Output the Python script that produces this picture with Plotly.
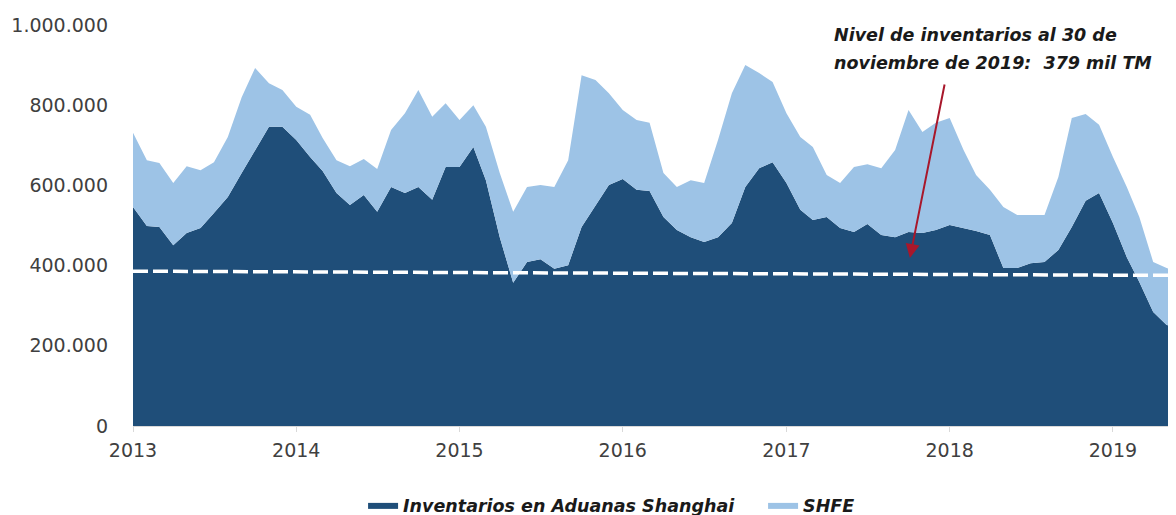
import pandas as pd
import plotly.graph_objects as go

# ---- data (thousand tonnes, converted below) ----
start_month = "2013-01-01"
n_months = 78

aduanas_k = [546, 499, 496, 451, 481, 494, 531, 571, 631, 688, 746, 746,
             713, 671, 636, 581, 551, 576, 534, 596, 581, 596, 564, 646,
             646, 696, 613, 471, 357, 409, 416, 392, 401, 496, 551, 601,
             616, 589, 586, 521, 489, 471, 459, 471, 506, 596, 643, 658,
             606, 539, 514, 521, 494, 484, 504, 476, 471, 484, 481, 489,
             501, 494, 486, 476, 394, 394, 406, 409, 439, 496, 562, 581,
             506, 421, 359, 284, 252, 245]

shfe_k = [185, 164, 160, 155, 167, 144, 127, 150, 189, 205, 109, 92,
          83, 105, 82, 82, 97, 90, 107, 142, 199, 242, 207, 159,
          117, 104, 133, 160, 177, 187, 185, 204, 262, 379, 312, 229,
          172, 174, 170, 110, 107, 142, 147, 242, 324, 304, 237, 200,
          174, 182, 182, 105, 112, 162, 149, 167, 217, 304, 252, 267,
          267, 194, 140, 113, 152, 132, 120, 117, 182, 272, 216, 170,
          165, 175, 162, 125, 142, 135]

nivel_k = [386, 375.5]  # dashed reference line (start, end)

y_tickvals = [0, 200000, 400000, 600000, 800000, 1000000]
y_ticktext = ["0", "200.000", "400.000", "600.000", "800.000", "1.000.000"]

series_names = ["Inventarios en Aduanas Shanghai", "SHFE"]
annotation_lines = ["Nivel de inventarios al 30 de",
                    "noviembre de 2019:  379 mil TM"]

# ---- build ----
dates = pd.date_range(start_month, periods=n_months, freq="MS")
aduanas = [v * 1000 for v in aduanas_k]
shfe = [v * 1000 for v in shfe_k]
nivel = [v * 1000 for v in nivel_k]

DARK = "#1F4E79"
LIGHT = "#9DC3E6"
FONT = "DejaVu Sans"

fig = go.Figure()
fig.add_trace(go.Scatter(
    x=dates, y=aduanas, name=series_names[0], mode="lines",
    stackgroup="inv", line=dict(width=0, color=DARK), fillcolor=DARK,
))
fig.add_trace(go.Scatter(
    x=dates, y=shfe, name=series_names[1], mode="lines",
    stackgroup="inv", line=dict(width=0, color=LIGHT), fillcolor=LIGHT,
))
fig.add_trace(go.Scatter(
    x=[dates[0], dates[-1]], y=nivel, mode="lines", showlegend=False,
    line=dict(color="white", width=3.5, dash="15px,5px"), hoverinfo="skip",
))

# arrow pointing to the dashed line
fig.add_annotation(
    x="2017-10-04", y=419000, xref="x", yref="y",
    ax=35, ay=-175, axref="pixel", ayref="pixel",
    text="", showarrow=True, arrowhead=2, arrowsize=1.4, arrowwidth=2,
    arrowcolor="#A8172B",
)
ann_font = dict(family=FONT, size=17.5, color="#1a1a1a", style="italic", weight="bold")
for line_text, ypos in zip(annotation_lines, [0.975, 0.905]):
    fig.add_annotation(
        x=0.670, y=ypos, xref="paper", yref="paper", xanchor="left", yanchor="middle",
        text=line_text, showarrow=False, align="left", font=ann_font,
    )

fig.update_layout(
    width=1168, height=507,
    margin=dict(l=125, r=0, t=17, b=89),
    paper_bgcolor="white", plot_bgcolor="white",
    showlegend=True,
    legend=dict(
        orientation="h", xref="container", yref="container",
        x=0.304, xanchor="left", y=0.0197, yanchor="middle",
        font=dict(family=FONT, size=17.5, color="#1a1a1a", style="italic", weight="bold"),
        itemwidth=30, traceorder="normal", entrywidth=355, entrywidthmode="pixels",
    ),
    hovermode=False,
)
fig.update_xaxes(
    type="date", range=["2013-01-01", "2019-05-22"],
    tick0="2013-01-01", dtick="M12", tickformat="%Y",
    showgrid=False, zeroline=False,
    showline=True, linecolor="#d9d9d9", linewidth=1,
    ticks="outside", ticklen=5, tickcolor="#d9d9d9",
    tickfont=dict(family=FONT, size=19, color="#404040"),
    ticklabelstandoff=2,
)
fig.update_yaxes(
    range=[0, 1000000], tickvals=y_tickvals, ticktext=y_ticktext,
    showgrid=False, zeroline=False, showline=False,
    tickfont=dict(family=FONT, size=19, color="#404040"),
    ticklabelstandoff=24,
)

fig.write_html("out.html")
